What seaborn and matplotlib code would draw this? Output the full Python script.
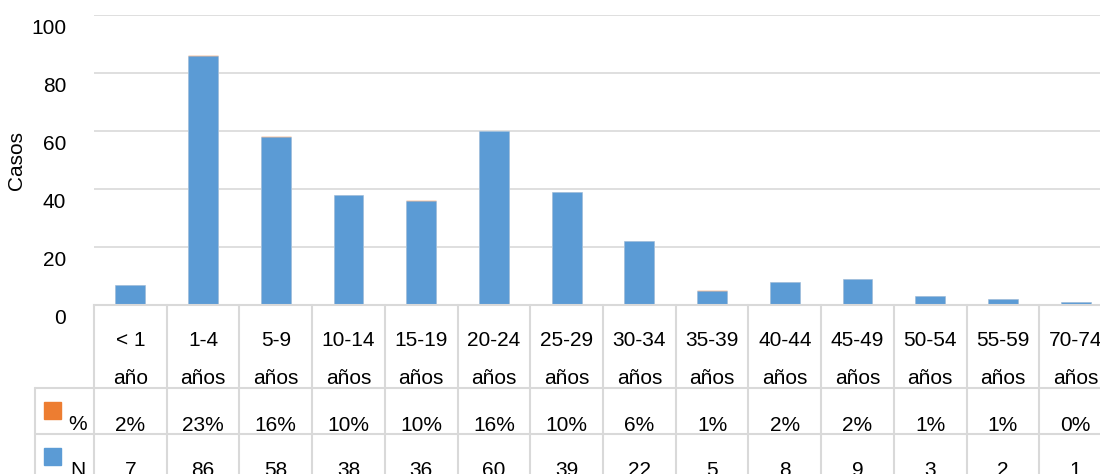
import matplotlib
matplotlib.use("Agg")
import matplotlib.pyplot as plt
import matplotlib.transforms as mtransforms
import seaborn as sns
import pandas as pd
import numpy as np

# data
grupos = ["< 1\naño", "1-4\naños", "5-9\naños", "10-14\naños", "15-19\naños",
          "20-24\naños", "25-29\naños", "30-34\naños", "35-39\naños", "40-44\naños",
          "45-49\naños", "50-54\naños", "55-59\naños", "70-74\naños"]
casos_n = [7, 86, 58, 38, 36, 60, 39, 22, 5, 8, 9, 3, 2, 1]
casos_pct = [2, 23, 16, 10, 10, 16, 10, 6, 1, 2, 2, 1, 1, 0]
yticks = [0, 20, 40, 60, 80, 100]

azul = "#5B9BD5"
naranja = "#ED7D31"
gris = "#D9D9D9"

sns.set_style("white")
plt.rcParams["font.family"] = ["Liberation Sans", "DejaVu Sans"]
plt.rcParams["text.color"] = "black"
plt.rcParams["ytick.color"] = "black"
plt.rcParams["axes.labelcolor"] = "black"

df = pd.DataFrame({"grupo": grupos, "N": casos_n, "pct": np.array(casos_pct) / 100})
df["total"] = df["N"] + df["pct"]

fig = plt.figure(figsize=(11, 4.74), dpi=100)
ax = fig.add_axes([94 / 1100, 1 - 305 / 474, 1018 / 1100, 290 / 474])

# stacked bars: % on top of N
sns.barplot(data=df, x="grupo", y="total", color=naranja, width=0.41,
            saturation=1, ax=ax, edgecolor="white", linewidth=0.4)
sns.barplot(data=df, x="grupo", y="N", color=azul, width=0.41,
            saturation=1, ax=ax, edgecolor="#9DC3E6", linewidth=0.4)

ax.set_xlim(-0.5, len(grupos) - 0.5)
ax.set_ylim(0, 100)
ax.set_yticks(yticks)
ax.yaxis.grid(True, color=gris, linewidth=1.2)
ax.set_axisbelow(True)
for s in ["top", "right", "left"]:
    ax.spines[s].set_visible(False)
ax.spines["bottom"].set_color(gris)
ax.spines["bottom"].set_linewidth(1.5)
ax.set_xticks([])
ax.set_xlabel("")
ax.set_ylabel("Casos", fontsize=15)
ax.yaxis.set_label_coords(-0.067, 0.5)
ax.tick_params(axis="y", length=0, labelsize=15, pad=20)
off = mtransforms.ScaledTranslation(0, -0.12, fig.dpi_scale_trans)
for lab in ax.get_yticklabels():
    lab.set_transform(lab.get_transform() + off)

# data table below the chart
tr = mtransforms.blended_transform_factory(ax.transData, ax.transAxes)
x_leg = -1.31
y_head, y_pct, y_bot = -0.286, -0.445, -0.62
line_kw = dict(color=gris, linewidth=1.5, transform=tr, clip_on=False)
for i in range(len(grupos) + 1):
    ax.plot([i - 0.5, i - 0.5], [0, y_bot], **line_kw)
ax.plot([x_leg, x_leg], [y_head, y_bot], **line_kw)
ax.plot([x_leg, len(grupos) - 0.5], [y_head, y_head], **line_kw)
ax.plot([x_leg, len(grupos) - 0.5], [y_pct, y_pct], **line_kw)

txt_kw = dict(transform=tr, ha="center", va="center", fontsize=15, clip_on=False)
for i, g in enumerate(grupos):
    l1, l2 = g.split("\n")
    ax.text(i, -0.124, l1, **txt_kw)
    ax.text(i, -0.252, l2, **txt_kw)
    ax.text(i, -0.414, f"{casos_pct[i]}%", **txt_kw)
    ax.text(i, -0.572, f"{casos_n[i]}", **txt_kw)

# legend keys in the table
fig.patches.append(plt.Rectangle((44 / 1100, 1 - 419 / 474), 17 / 1100, 17 / 474,
                                 color=naranja, transform=fig.transFigure))
fig.patches.append(plt.Rectangle((44 / 1100, 1 - 465 / 474), 17 / 1100, 17 / 474,
                                 color=azul, transform=fig.transFigure))
fig.text(78 / 1100, 1 - 425 / 474, "%", ha="center", va="center", fontsize=15)
fig.text(78 / 1100, 1 - 471 / 474, "N", ha="center", va="center", fontsize=15)

fig.savefig("out.png", dpi=100)
